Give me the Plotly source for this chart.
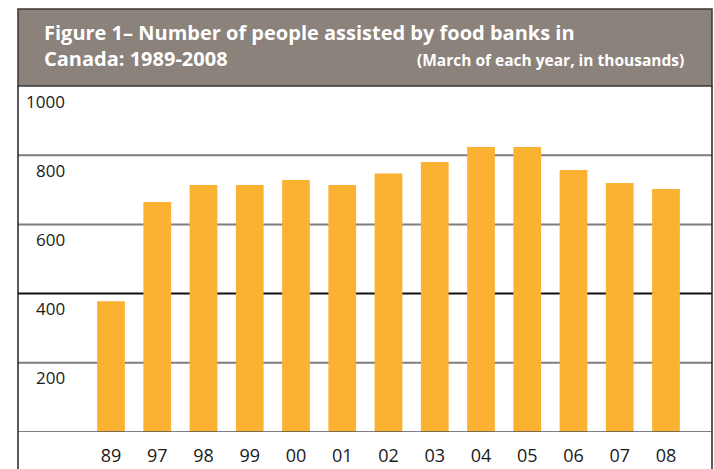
import plotly.graph_objects as go

# Food bank usage, March of each year (thousands of people)
years = ["89", "97", "98", "99", "00", "01", "02", "03", "04", "05", "06", "07", "08"]
people_thousands = [378, 665, 714, 714, 728, 714, 747, 780, 824, 824, 757, 720, 702]
y_ticks = [200, 400, 600, 800, 1000]

W, H = 714, 469
L, R, T, B = 18, 2, 86, 37
plot_h = H - T - B
plot_w = W - L - R


def py(px):
    """Pixel row -> paper y."""
    return (H - B - px) / plot_h


def px_x(px):
    """Pixel column -> paper x."""
    return (px - L) / plot_w


BAR = "#FBB232"
HEADER = "#8B827C"
FONT = "Open Sans"
TITLE_FONT = "Open Sans"

fig = go.Figure()
fig.add_trace(go.Bar(
    x=list(range(len(years))),
    y=people_thousands,
    marker=dict(color=BAR, line=dict(width=0)),
    width=0.6,
    hoverinfo="skip",
))

shapes = []
# header band
shapes.append(dict(type="rect", xref="paper", yref="paper", x0=0, x1=1,
                   y0=1, y1=py(9), fillcolor=HEADER,
                   line=dict(color="#3a3633", width=1.5), layer="below"))
# horizontal rules
for v in y_ticks[:-1]:
    shapes.append(dict(type="line", xref="paper", yref="y", x0=0, x1=1, y0=v, y1=v,
                       line=dict(color="#111111" if v == 400 else "#7d7d7d", width=2),
                       layer="below"))
# left/right frame running down past the axis
for xp in (0, 1):
    shapes.append(dict(type="line", xref="paper", yref="paper", x0=xp, x1=xp,
                       y0=py(H), y1=1, line=dict(color="#222222", width=1.5)))
# baseline
shapes.append(dict(type="line", xref="paper", yref="y", x0=0, x1=1, y0=0, y1=0,
                   line=dict(color="#555555", width=1.5)))

annotations = []
for v in y_ticks:
    annotations.append(dict(xref="paper", yref="y", x=px_x(67), y=v, yshift=-15,
                            text=str(v), showarrow=False, xanchor="right", yanchor="middle",
                            font=dict(family=FONT, size=17, color="#1a1a1a")))
annotations.append(dict(xref="paper", yref="paper", x=px_x(42), y=py(45.5),
                        text="<b>Figure 1– Number of people assisted by food banks in"
                             "<br>Canada: 1989-2008</b>",
                        showarrow=False, xanchor="left", yanchor="middle", align="left",
                        font=dict(family=TITLE_FONT, size=20, color="white")))
annotations.append(dict(xref="paper", yref="paper", x=px_x(686), y=py(60),
                        text="<b>(March of each year, in thousands)</b>",
                        showarrow=False, xanchor="right", yanchor="middle",
                        font=dict(family=TITLE_FONT, size=15.5, color="white")))

fig.update_layout(
    width=W, height=H,
    margin=dict(l=L, r=R, t=T, b=B, pad=0),
    paper_bgcolor="white", plot_bgcolor="white",
    showlegend=False,
    shapes=shapes,
    annotations=annotations,
    xaxis=dict(
        range=[-2.011, 12.995],
        tickmode="array",
        tickvals=list(range(len(years))),
        ticktext=years,
        showgrid=False, zeroline=False, showline=False, ticks="",
        tickfont=dict(family=FONT, size=18, color="#1a1a1a"),
        ticklabelstandoff=11,
        fixedrange=True,
    ),
    yaxis=dict(
        range=[0, 1000],
        showgrid=False, zeroline=False, showline=False,
        showticklabels=False, ticks="",
        fixedrange=True,
    ),
)

fig.write_html("out.html")
